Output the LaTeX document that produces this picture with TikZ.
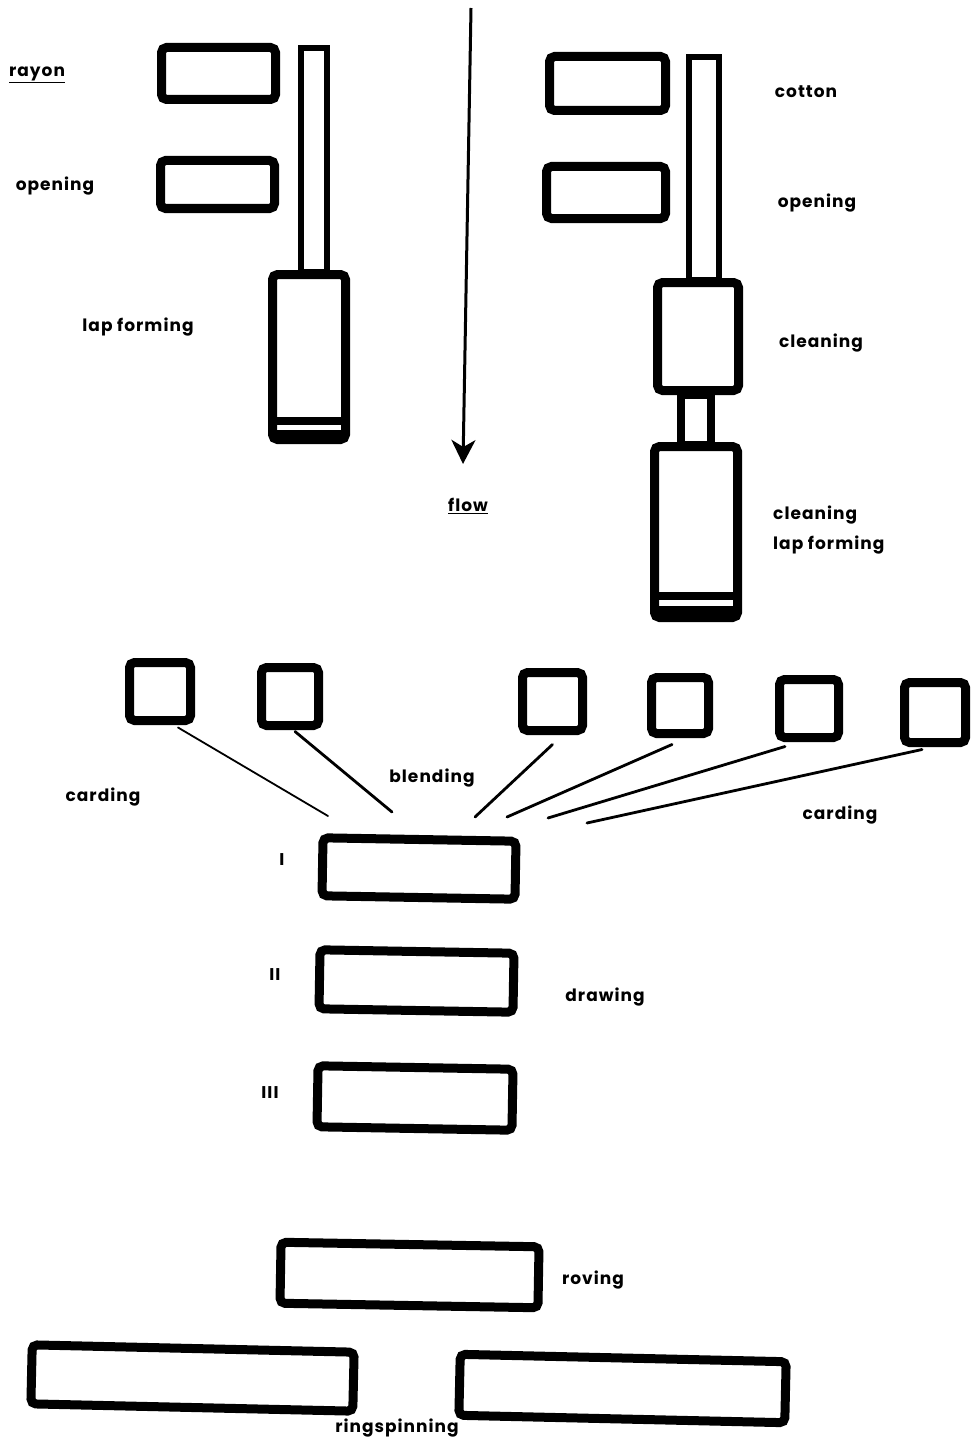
\documentclass[tikz,border=0pt]{standalone}
\usepackage{fontspec}
\setmainfont{Poppins}[LetterSpace=6]
\usetikzlibrary{arrows.meta}
\tikzset{
  box/.style={draw, line width=9pt, rounded corners=5pt, inner sep=0pt, outer sep=0pt, fill=white},
  tube/.style={draw, line width=6.5pt, inner sep=0pt, outer sep=0pt, fill=white},
  lbl/.style={font=\bfseries\fontsize{17}{19}\selectfont, inner sep=0pt},
  feed/.style={line width=2.8pt, line cap=round},
  band/.style={line width=8pt},
}
\begin{document}
\begin{tikzpicture}[x=1pt,y=-1pt]
\useasboundingbox[fill=white] (0,0) rectangle (976,1442);

% ---- rayon line (left)
\node[tube, minimum width=26pt, minimum height=224pt] (ltube) at (314,160) {};
\node[box, minimum width=114pt, minimum height=52pt] (rayonbox) at (218.5,73.5) {};
\node[box, minimum width=114pt, minimum height=48pt] (lopen) at (217.5,184.5) {};
\node[box, minimum width=73pt, minimum height=165pt] (llap) at (309,357) {};
\draw[band] ([yshift=19pt]llap.south west) -- ([yshift=19pt]llap.south east);
\draw[band] ([yshift=6pt]llap.south west) -- ([yshift=6pt]llap.south east);

% ---- cotton line (right)
\node[tube, minimum width=30pt, minimum height=223pt] (rtube) at (704,168.5) {};
\node[tube, line width=8pt, minimum width=30pt, minimum height=50pt] (rconn) at (696,420) {};
\node[box, minimum width=116pt, minimum height=54pt] (cottonbox) at (607.5,83.5) {};
\node[box, minimum width=119pt, minimum height=52pt] (ropen) at (606,192.5) {};
\node[box, minimum width=81pt, minimum height=108pt] (rclean) at (698,336.5) {};
\node[box, minimum width=83pt, minimum height=171pt] (rlap) at (696,532) {};
\draw[band] ([yshift=22pt]rlap.south west) -- ([yshift=22pt]rlap.south east);
\draw[band] ([yshift=8pt]rlap.south west) -- ([yshift=8pt]rlap.south east);

% ---- flow arrow
\coordinate (flowtop) at (471,8);
\coordinate (flowtip) at (463,464);
\draw[line width=3pt, -{Stealth[width=24pt,length=24pt,inset=7pt]}] (flowtop) -- (flowtip);
\node[lbl] (flow) at (468,506) {\underline{flow}};

% ---- carding machines
\node[box, minimum width=61pt, minimum height=58pt] (c1) at (160,691.5) {};
\node[box, minimum width=57pt, minimum height=58pt] (c2) at (290,696.5) {};
\node[box, minimum width=60pt, minimum height=58pt] (c3) at (552.5,701.5) {};
\node[box, minimum width=57pt, minimum height=56pt] (c4) at (680,705.5) {};
\node[box, minimum width=59pt, minimum height=58pt] (c5) at (809,708.5) {};
\node[box, minimum width=61pt, minimum height=60pt] (c6) at (935,712.5) {};
\coordinate (e1) at (328,816);
\coordinate (e2) at (392,812);
\coordinate (e3) at (475,817);
\coordinate (e4) at (507,817);
\coordinate (e5) at (548,818);
\coordinate (e6) at (587,823);
\draw[feed, line width=1.8pt] ([shift={(18,7)}]c1.south) -- (e1);
\draw[feed] ([shift={(5,6)}]c2.south) -- (e2);
\draw[feed] ([shift={(0,14)}]c3.south) -- (e3);
\draw[feed] ([shift={(-8,11)}]c4.south) -- (e4);
\draw[feed] ([shift={(-24,9)}]c5.south) -- (e5);
\draw[feed] ([shift={(-13,7)}]c6.south) -- (e6);

% ---- drawing frames
\node[box, rotate=-1, minimum width=193pt, minimum height=58pt] (d1) at (419,868.5) {};
\node[box, rotate=-1, minimum width=194pt, minimum height=59pt] (d2) at (416.5,981) {};
\node[box, rotate=-1, minimum width=195pt, minimum height=61pt] (d3) at (415,1098) {};

% ---- roving and ring spinning
\node[box, rotate=-1, minimum width=258pt, minimum height=61pt] (rov) at (409.5,1275) {};
\node[box, rotate=-1.3, minimum width=322pt, minimum height=59pt] (ring1) at (192.5,1378) {};
\node[box, rotate=-1.3, minimum width=326pt, minimum height=61pt] (ring2) at (622.5,1388.5) {};

% ---- labels
\node[lbl] (Lrayon) at (37,75) {\underline{rayon}};
\node[lbl] (Lopen1) at (55,186) {opening};
\node[lbl] (Llap1) at (138,327) {lap forming};
\node[lbl] (Lcotton) at (806,92) {cotton};
\node[lbl] (Lopen2) at (817,203) {opening};
\node[lbl] (Lclean) at (821,343) {cleaning};
\node[lbl, font=\bfseries\fontsize{17}{30}\selectfont, anchor=west, align=left] (Lcleanlap) at (773,530) {cleaning\\lap forming};
\node[lbl] (Lcard1) at (103,797) {carding};
\node[lbl] (Lblend) at (432,778) {blending};
\node[lbl] (Lcard2) at (840,815) {carding};
\node[lbl] (LI) at (282,860) {I};
\node[lbl] (LII) at (275,975) {II};
\node[lbl] (LIII) at (270,1093) {III};
\node[lbl] (Ldraw) at (605,997) {drawing};
\node[lbl] (Lrov) at (593,1280) {roving};
\node[lbl] (Lring) at (397,1428) {ringspinning};
\end{tikzpicture}
\end{document}
